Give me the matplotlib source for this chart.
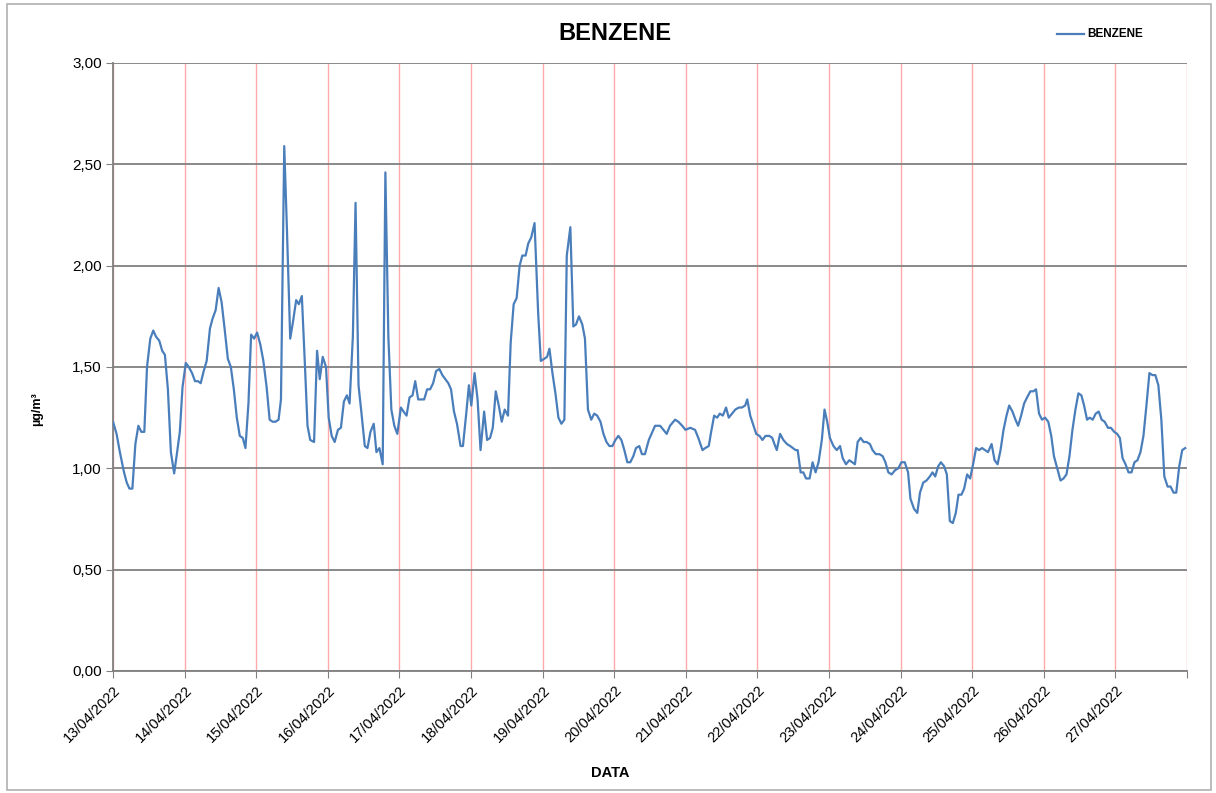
import matplotlib
matplotlib.use('Agg')
import matplotlib.pyplot as plt
import numpy as np
import pandas as pd
from matplotlib.lines import Line2D
from matplotlib.patches import Rectangle
import matplotlib.ticker as mticker

plt.rcParams['font.family'] = ['Liberation Sans', 'DejaVu Sans']

# hours since 13/04/2022 00:00
hours = [
    0.0, 1.2, 2.3, 3.7, 4.6, 5.5, 6.5, 7.5, 8.5, 9.5, 10.5, 11.4, 12.5, 13.5, 14.4, 15.5,
    16.5, 17.4, 18.4, 19.4, 20.5, 21.4, 22.4, 23.3, 24.4, 25.4, 26.5, 27.5, 28.5, 29.4,
    30.4, 31.4, 32.5, 33.4, 34.4, 35.4, 36.4, 37.4, 38.5, 39.5, 40.5, 41.5, 42.5, 43.5,
    44.4, 45.4, 46.3, 47.3, 48.3, 49.4, 50.4, 51.5, 52.5, 53.5, 54.5, 55.5, 56.3, 57.4,
    58.3, 59.4, 60.3, 61.4, 62.3, 63.3, 64.3, 65.2, 66.1, 67.4, 68.4, 69.3, 70.3, 71.4,
    72.3, 73.3, 74.3, 75.4, 76.4, 77.4, 78.4, 79.3, 80.4, 81.3, 82.3, 83.3, 84.4, 85.3,
    86.3, 87.4, 88.3, 89.3, 90.4, 91.3, 92.3, 93.3, 94.3, 95.3, 96.5, 97.4, 98.4, 99.4,
    100.4, 101.3, 102.3, 103.3, 104.3, 105.3, 106.3, 107.3, 108.3, 109.4, 110.4, 111.4,
    112.4, 113.3, 114.3, 115.3, 116.5, 117.3, 118.4, 119.3,
    120.1, 121.2, 122.2, 123.2, 124.4, 125.4, 126.4, 127.3, 128.3, 129.3, 130.3, 131.3,
    132.4, 133.3, 134.3, 135.3, 136.3, 137.2, 138.3, 139.2, 140.2, 141.3, 142.5, 143.4,
    144.5, 145.5, 146.3, 147.3, 148.3, 149.3, 150.3, 151.3, 152.1, 153.3, 154.3, 155.2,
    156.2, 157.3, 158.2, 159.2, 160.3, 161.3, 162.3, 163.4, 164.4, 165.4, 166.4, 167.4,
    168.4, 169.4, 170.4, 171.4, 172.4, 173.4, 174.4, 175.3, 176.4, 177.3, 178.3, 179.6,
    181.7, 183.4, 184.5, 185.6, 186.7, 188.4, 189.5, 190.8, 191.9, 193.5, 195.1, 196.2,
    197.6, 198.5, 199.7, 200.5, 201.5, 202.5, 203.4, 204.4, 205.5, 206.4, 207.5, 208.6,
    209.8, 210.8, 211.9, 212.6, 213.6, 214.7, 215.6, 216.7, 217.7, 218.7, 220.0, 221.0,
    221.7, 222.5, 223.6, 224.7, 225.9, 227.0, 227.9, 228.8, 229.5, 230.5, 231.4, 232.3,
    233.5, 234.5, 235.5, 236.5, 237.6, 238.5, 239.4,
    240.3, 241.5, 242.6, 243.7, 244.6, 245.7, 246.8, 247.8, 248.7, 249.6, 250.6, 251.6,
    252.6, 253.7, 254.6, 255.7, 256.9, 258.0, 258.9, 259.9, 261.0, 262.1, 263.2, 264.3,
    265.4, 266.5, 267.3, 268.5, 269.6, 270.5, 271.6, 272.7, 273.8, 274.7, 275.6, 276.6,
    277.5, 278.6, 279.5, 280.5, 281.5, 282.5, 283.4, 284.4, 285.3, 286.3, 287.3, 288.3,
    289.3, 290.3, 291.3, 292.3, 293.3, 294.5, 295.5, 296.5, 297.5, 298.5, 299.5, 300.4,
    301.5, 302.5, 303.4, 304.4, 305.4, 306.4, 307.5, 308.5, 309.4, 310.4, 311.4, 312.4,
    313.5, 314.5, 315.4, 316.5, 317.6, 318.6, 319.6, 320.6, 321.6, 322.6, 323.6, 324.6,
    325.5, 326.5, 327.4, 328.4, 329.4, 330.4, 331.4, 332.4, 333.5, 334.5, 335.6, 336.6,
    337.5, 338.4, 339.4, 340.4, 341.4, 342.4, 343.4, 344.4, 345.4, 346.4, 347.4, 348.4,
    349.4, 350.4, 351.4, 352.4, 353.5, 354.5, 355.5, 356.4, 357.4, 358.4, 359.4,
]

benzene = [
    1.23, 1.17, 1.08, 0.98, 0.93, 0.90, 0.90, 1.12, 1.21, 1.18, 1.18, 1.50, 1.64, 1.68, 1.65, 1.63,
    1.58, 1.56, 1.39, 1.08, 0.975, 1.07, 1.18, 1.40, 1.52, 1.50, 1.47, 1.43, 1.43, 1.42,
    1.48, 1.53, 1.69, 1.74, 1.78, 1.89, 1.82, 1.69, 1.54, 1.50, 1.39, 1.25, 1.16, 1.15,
    1.10, 1.32, 1.66, 1.64, 1.67, 1.61, 1.53, 1.40, 1.24, 1.23, 1.23, 1.24, 1.34, 2.59,
    2.18, 1.64, 1.72, 1.83, 1.81, 1.85, 1.52, 1.21, 1.14, 1.13, 1.58, 1.44, 1.55, 1.50,
    1.25, 1.16, 1.13, 1.19, 1.20, 1.33, 1.36, 1.32, 1.65, 2.31, 1.41, 1.27, 1.11, 1.10,
    1.18, 1.22, 1.08, 1.10, 1.02, 2.46, 1.65, 1.29, 1.21, 1.17, 1.30, 1.28, 1.26, 1.35,
    1.36, 1.43, 1.34, 1.34, 1.34, 1.39, 1.39, 1.42, 1.48, 1.49, 1.46, 1.44,
    1.42, 1.39, 1.28, 1.22, 1.11, 1.11, 1.27, 1.41,
    1.31, 1.47, 1.34, 1.09, 1.28, 1.14, 1.15, 1.20, 1.38, 1.31, 1.23, 1.29,
    1.26, 1.62, 1.81, 1.84, 2.00, 2.05, 2.05, 2.11, 2.14, 2.21, 1.77, 1.53,
    1.54, 1.55, 1.59, 1.47, 1.37, 1.25, 1.22, 1.24, 2.05, 2.19, 1.70, 1.71,
    1.75, 1.71, 1.64, 1.29, 1.24, 1.27, 1.26, 1.23, 1.17, 1.13, 1.11, 1.11,
    1.14, 1.16, 1.14, 1.09, 1.03, 1.03, 1.06, 1.10, 1.11, 1.07, 1.07, 1.14,
    1.21, 1.21, 1.19, 1.17, 1.21, 1.24, 1.23, 1.21, 1.19, 1.20, 1.19, 1.15,
    1.09, 1.10, 1.11, 1.18, 1.26, 1.25, 1.27, 1.26, 1.30, 1.25, 1.27, 1.29,
    1.30, 1.30, 1.31, 1.34, 1.26, 1.21, 1.17, 1.16, 1.14, 1.16, 1.16, 1.15,
    1.12, 1.09, 1.17, 1.14, 1.12, 1.11, 1.10, 1.09, 1.09, 0.98, 0.98, 0.95,
    0.95, 1.03, 0.98, 1.03, 1.14, 1.29, 1.23,
    1.15, 1.11, 1.09, 1.11, 1.05, 1.02, 1.04, 1.03, 1.02, 1.13, 1.15, 1.13,
    1.13, 1.12, 1.09, 1.07, 1.07, 1.06, 1.03, 0.98, 0.97, 0.99, 1.00, 1.03,
    1.03, 0.98, 0.85, 0.80, 0.78, 0.88, 0.93, 0.94, 0.96, 0.98, 0.96, 1.01,
    1.03, 1.01, 0.97, 0.74, 0.73, 0.78, 0.87, 0.87, 0.90, 0.97, 0.95, 1.02,
    1.10, 1.09, 1.10, 1.09, 1.08, 1.12, 1.04, 1.02, 1.09, 1.19, 1.26, 1.31,
    1.28, 1.24, 1.21, 1.26, 1.32, 1.35, 1.38, 1.38, 1.39, 1.27, 1.24, 1.25,
    1.23, 1.16, 1.06, 1.00, 0.94, 0.95, 0.97, 1.06, 1.19, 1.29, 1.37, 1.36,
    1.31, 1.24, 1.25, 1.24, 1.27, 1.28, 1.24, 1.23, 1.20, 1.20, 1.18, 1.17,
    1.15, 1.05, 1.02, 0.98, 0.98, 1.03, 1.04, 1.08, 1.16, 1.31, 1.47, 1.46,
    1.46, 1.41, 1.24, 0.96, 0.91, 0.91, 0.88, 0.88, 1.01, 1.09, 1.10,
]

days = pd.date_range('2022-04-13', '2022-04-28', freq='D')
day_labels = [d.strftime('%d/%m/%Y') for d in days[:-1]] + ['']
y_ticks = [0.0, 0.5, 1.0, 1.5, 2.0, 2.5, 3.0]

times = pd.Timestamp('2022-04-13') + pd.to_timedelta(hours, unit='h')

fig = plt.figure(figsize=(12.16, 7.93), dpi=100)
ax = fig.add_axes([113/1216, 1-671/793, (1187-113)/1216, (671-63)/793])

ax.plot(times, benzene, color='#4a7ebb', linewidth=1.6, zorder=3)

ax.set_xlim(days[0], days[-1])
ax.set_ylim(0, 3)
ax.set_xticks(days)
ax.set_xticklabels(day_labels, rotation=45, ha='right', rotation_mode='anchor', fontsize=10.5)
ax.set_yticks(y_ticks)
ax.yaxis.set_major_formatter(mticker.FuncFormatter(lambda v, p: ('%.2f' % v).replace('.', ',')))
ax.tick_params(axis='y', labelsize=11, direction='out', length=5, color='#808080', pad=3)
ax.tick_params(axis='x', direction='out', length=5, color='#808080', pad=4)

ax.grid(axis='y', color='#808080', linewidth=1.3, zorder=1)
ax.grid(axis='x', color='#ffaaaa', linewidth=1.0, zorder=1)
ax.set_axisbelow(True)
for s in ['top', 'right']:
    ax.spines[s].set_visible(False)
for s in ['left', 'bottom']:
    ax.spines[s].set_color('#808080')
    ax.spines[s].set_linewidth(1.3)

ax.set_ylabel('µg/m³', fontsize=9, fontweight='bold')
ax.yaxis.set_label_coords(-0.065, 0.43)
ax.set_xlabel('DATA', fontsize=10.5, fontweight='bold')
ax.xaxis.set_label_coords(0.463, -0.156)

fig.text(615/1216, 1-33/793, 'BENZENE', ha='center', va='center', fontsize=17, fontweight='bold')
fig.add_artist(Line2D([1057/1216, 1084/1216], [1-34/793, 1-34/793], color='#4a7ebb', linewidth=1.6))
fig.text(1087/1216, 1-34/793, 'BENZENE', ha='left', va='center', fontsize=8.5, fontweight='bold')

fig.add_artist(Rectangle((7/1216, 3/793), 1204/1216, 786/793, transform=fig.transFigure,
                         fill=False, edgecolor='#b0b0b0', linewidth=1.2))

fig.savefig('out.png', dpi=100)
